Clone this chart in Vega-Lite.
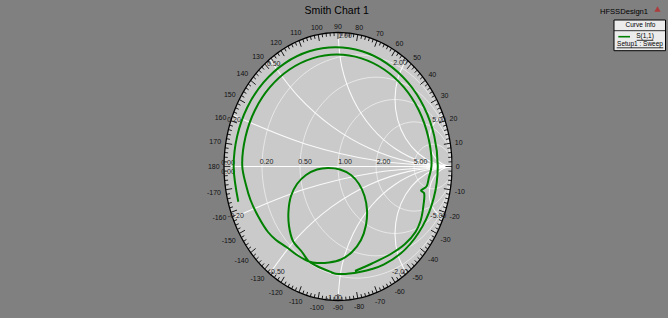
{
"$schema":"https://vega.github.io/schema/vega-lite/v6.json",
"width":668,"height":318,
"autosize":{"type":"fit","contains":"padding"},
"padding":0,
"background":"#808080",
"config":{"view":{"stroke":null},"text":{"font":"Liberation Sans"}},
"datasets":{
"ring":[
{"a":0,"u":1,"v":0,"m":1},{"a":2,"u":0.9994,"v":0.0349,"m":0},{"a":4,"u":0.9976,"v":0.0698,"m":0},{"a":6,"u":0.9945,"v":0.1045,"m":0},{"a":8,"u":0.9903,"v":0.1392,"m":0},
{"a":10,"u":0.9848,"v":0.1736,"m":1},{"a":12,"u":0.9781,"v":0.2079,"m":0},{"a":14,"u":0.9703,"v":0.2419,"m":0},{"a":16,"u":0.9613,"v":0.2756,"m":0},{"a":18,"u":0.9511,"v":0.309,"m":0},
{"a":20,"u":0.9397,"v":0.342,"m":1},{"a":22,"u":0.9272,"v":0.3746,"m":0},{"a":24,"u":0.9135,"v":0.4067,"m":0},{"a":26,"u":0.8988,"v":0.4384,"m":0},{"a":28,"u":0.8829,"v":0.4695,"m":0},
{"a":30,"u":0.866,"v":0.5,"m":1},{"a":32,"u":0.848,"v":0.5299,"m":0},{"a":34,"u":0.829,"v":0.5592,"m":0},{"a":36,"u":0.809,"v":0.5878,"m":0},{"a":38,"u":0.788,"v":0.6157,"m":0},
{"a":40,"u":0.766,"v":0.6428,"m":1},{"a":42,"u":0.7431,"v":0.6691,"m":0},{"a":44,"u":0.7193,"v":0.6947,"m":0},{"a":46,"u":0.6947,"v":0.7193,"m":0},{"a":48,"u":0.6691,"v":0.7431,"m":0},
{"a":50,"u":0.6428,"v":0.766,"m":1},{"a":52,"u":0.6157,"v":0.788,"m":0},{"a":54,"u":0.5878,"v":0.809,"m":0},{"a":56,"u":0.5592,"v":0.829,"m":0},{"a":58,"u":0.5299,"v":0.848,"m":0},
{"a":60,"u":0.5,"v":0.866,"m":1},{"a":62,"u":0.4695,"v":0.8829,"m":0},{"a":64,"u":0.4384,"v":0.8988,"m":0},{"a":66,"u":0.4067,"v":0.9135,"m":0},{"a":68,"u":0.3746,"v":0.9272,"m":0},
{"a":70,"u":0.342,"v":0.9397,"m":1},{"a":72,"u":0.309,"v":0.9511,"m":0},{"a":74,"u":0.2756,"v":0.9613,"m":0},{"a":76,"u":0.2419,"v":0.9703,"m":0},{"a":78,"u":0.2079,"v":0.9781,"m":0},
{"a":80,"u":0.1736,"v":0.9848,"m":1},{"a":82,"u":0.1392,"v":0.9903,"m":0},{"a":84,"u":0.1045,"v":0.9945,"m":0},{"a":86,"u":0.0698,"v":0.9976,"m":0},{"a":88,"u":0.0349,"v":0.9994,"m":0},
{"a":90,"u":0,"v":1,"m":1},{"a":92,"u":-0.0349,"v":0.9994,"m":0},{"a":94,"u":-0.0698,"v":0.9976,"m":0},{"a":96,"u":-0.1045,"v":0.9945,"m":0},{"a":98,"u":-0.1392,"v":0.9903,"m":0},
{"a":100,"u":-0.1736,"v":0.9848,"m":1},{"a":102,"u":-0.2079,"v":0.9781,"m":0},{"a":104,"u":-0.2419,"v":0.9703,"m":0},{"a":106,"u":-0.2756,"v":0.9613,"m":0},{"a":108,"u":-0.309,"v":0.9511,"m":0},
{"a":110,"u":-0.342,"v":0.9397,"m":1},{"a":112,"u":-0.3746,"v":0.9272,"m":0},{"a":114,"u":-0.4067,"v":0.9135,"m":0},{"a":116,"u":-0.4384,"v":0.8988,"m":0},{"a":118,"u":-0.4695,"v":0.8829,"m":0},
{"a":120,"u":-0.5,"v":0.866,"m":1},{"a":122,"u":-0.5299,"v":0.848,"m":0},{"a":124,"u":-0.5592,"v":0.829,"m":0},{"a":126,"u":-0.5878,"v":0.809,"m":0},{"a":128,"u":-0.6157,"v":0.788,"m":0},
{"a":130,"u":-0.6428,"v":0.766,"m":1},{"a":132,"u":-0.6691,"v":0.7431,"m":0},{"a":134,"u":-0.6947,"v":0.7193,"m":0},{"a":136,"u":-0.7193,"v":0.6947,"m":0},{"a":138,"u":-0.7431,"v":0.6691,"m":0},
{"a":140,"u":-0.766,"v":0.6428,"m":1},{"a":142,"u":-0.788,"v":0.6157,"m":0},{"a":144,"u":-0.809,"v":0.5878,"m":0},{"a":146,"u":-0.829,"v":0.5592,"m":0},{"a":148,"u":-0.848,"v":0.5299,"m":0},
{"a":150,"u":-0.866,"v":0.5,"m":1},{"a":152,"u":-0.8829,"v":0.4695,"m":0},{"a":154,"u":-0.8988,"v":0.4384,"m":0},{"a":156,"u":-0.9135,"v":0.4067,"m":0},{"a":158,"u":-0.9272,"v":0.3746,"m":0},
{"a":160,"u":-0.9397,"v":0.342,"m":1},{"a":162,"u":-0.9511,"v":0.309,"m":0},{"a":164,"u":-0.9613,"v":0.2756,"m":0},{"a":166,"u":-0.9703,"v":0.2419,"m":0},{"a":168,"u":-0.9781,"v":0.2079,"m":0},
{"a":170,"u":-0.9848,"v":0.1736,"m":1},{"a":172,"u":-0.9903,"v":0.1392,"m":0},{"a":174,"u":-0.9945,"v":0.1045,"m":0},{"a":176,"u":-0.9976,"v":0.0698,"m":0},{"a":178,"u":-0.9994,"v":0.0349,"m":0},
{"a":180,"u":-1,"v":0,"m":1},{"a":182,"u":-0.9994,"v":-0.0349,"m":0},{"a":184,"u":-0.9976,"v":-0.0698,"m":0},{"a":186,"u":-0.9945,"v":-0.1045,"m":0},{"a":188,"u":-0.9903,"v":-0.1392,"m":0},
{"a":190,"u":-0.9848,"v":-0.1736,"m":1},{"a":192,"u":-0.9781,"v":-0.2079,"m":0},{"a":194,"u":-0.9703,"v":-0.2419,"m":0},{"a":196,"u":-0.9613,"v":-0.2756,"m":0},{"a":198,"u":-0.9511,"v":-0.309,"m":0},
{"a":200,"u":-0.9397,"v":-0.342,"m":1},{"a":202,"u":-0.9272,"v":-0.3746,"m":0},{"a":204,"u":-0.9135,"v":-0.4067,"m":0},{"a":206,"u":-0.8988,"v":-0.4384,"m":0},{"a":208,"u":-0.8829,"v":-0.4695,"m":0},
{"a":210,"u":-0.866,"v":-0.5,"m":1},{"a":212,"u":-0.848,"v":-0.5299,"m":0},{"a":214,"u":-0.829,"v":-0.5592,"m":0},{"a":216,"u":-0.809,"v":-0.5878,"m":0},{"a":218,"u":-0.788,"v":-0.6157,"m":0},
{"a":220,"u":-0.766,"v":-0.6428,"m":1},{"a":222,"u":-0.7431,"v":-0.6691,"m":0},{"a":224,"u":-0.7193,"v":-0.6947,"m":0},{"a":226,"u":-0.6947,"v":-0.7193,"m":0},{"a":228,"u":-0.6691,"v":-0.7431,"m":0},
{"a":230,"u":-0.6428,"v":-0.766,"m":1},{"a":232,"u":-0.6157,"v":-0.788,"m":0},{"a":234,"u":-0.5878,"v":-0.809,"m":0},{"a":236,"u":-0.5592,"v":-0.829,"m":0},{"a":238,"u":-0.5299,"v":-0.848,"m":0},
{"a":240,"u":-0.5,"v":-0.866,"m":1},{"a":242,"u":-0.4695,"v":-0.8829,"m":0},{"a":244,"u":-0.4384,"v":-0.8988,"m":0},{"a":246,"u":-0.4067,"v":-0.9135,"m":0},{"a":248,"u":-0.3746,"v":-0.9272,"m":0},
{"a":250,"u":-0.342,"v":-0.9397,"m":1},{"a":252,"u":-0.309,"v":-0.9511,"m":0},{"a":254,"u":-0.2756,"v":-0.9613,"m":0},{"a":256,"u":-0.2419,"v":-0.9703,"m":0},{"a":258,"u":-0.2079,"v":-0.9781,"m":0},
{"a":260,"u":-0.1736,"v":-0.9848,"m":1},{"a":262,"u":-0.1392,"v":-0.9903,"m":0},{"a":264,"u":-0.1045,"v":-0.9945,"m":0},{"a":266,"u":-0.0698,"v":-0.9976,"m":0},{"a":268,"u":-0.0349,"v":-0.9994,"m":0},
{"a":270,"u":0,"v":-1,"m":1},{"a":272,"u":0.0349,"v":-0.9994,"m":0},{"a":274,"u":0.0698,"v":-0.9976,"m":0},{"a":276,"u":0.1045,"v":-0.9945,"m":0},{"a":278,"u":0.1392,"v":-0.9903,"m":0},
{"a":280,"u":0.1736,"v":-0.9848,"m":1},{"a":282,"u":0.2079,"v":-0.9781,"m":0},{"a":284,"u":0.2419,"v":-0.9703,"m":0},{"a":286,"u":0.2756,"v":-0.9613,"m":0},{"a":288,"u":0.309,"v":-0.9511,"m":0},
{"a":290,"u":0.342,"v":-0.9397,"m":1},{"a":292,"u":0.3746,"v":-0.9272,"m":0},{"a":294,"u":0.4067,"v":-0.9135,"m":0},{"a":296,"u":0.4384,"v":-0.8988,"m":0},{"a":298,"u":0.4695,"v":-0.8829,"m":0},
{"a":300,"u":0.5,"v":-0.866,"m":1},{"a":302,"u":0.5299,"v":-0.848,"m":0},{"a":304,"u":0.5592,"v":-0.829,"m":0},{"a":306,"u":0.5878,"v":-0.809,"m":0},{"a":308,"u":0.6157,"v":-0.788,"m":0},
{"a":310,"u":0.6428,"v":-0.766,"m":1},{"a":312,"u":0.6691,"v":-0.7431,"m":0},{"a":314,"u":0.6947,"v":-0.7193,"m":0},{"a":316,"u":0.7193,"v":-0.6947,"m":0},{"a":318,"u":0.7431,"v":-0.6691,"m":0},
{"a":320,"u":0.766,"v":-0.6428,"m":1},{"a":322,"u":0.788,"v":-0.6157,"m":0},{"a":324,"u":0.809,"v":-0.5878,"m":0},{"a":326,"u":0.829,"v":-0.5592,"m":0},{"a":328,"u":0.848,"v":-0.5299,"m":0},
{"a":330,"u":0.866,"v":-0.5,"m":1},{"a":332,"u":0.8829,"v":-0.4695,"m":0},{"a":334,"u":0.8988,"v":-0.4384,"m":0},{"a":336,"u":0.9135,"v":-0.4067,"m":0},{"a":338,"u":0.9272,"v":-0.3746,"m":0},
{"a":340,"u":0.9397,"v":-0.342,"m":1},{"a":342,"u":0.9511,"v":-0.309,"m":0},{"a":344,"u":0.9613,"v":-0.2756,"m":0},{"a":346,"u":0.9703,"v":-0.2419,"m":0},{"a":348,"u":0.9781,"v":-0.2079,"m":0},
{"a":350,"u":0.9848,"v":-0.1736,"m":1},{"a":352,"u":0.9903,"v":-0.1392,"m":0},{"a":354,"u":0.9945,"v":-0.1045,"m":0},{"a":356,"u":0.9976,"v":-0.0698,"m":0},{"a":358,"u":0.9994,"v":-0.0349,"m":0}
],
"rcircles":[
{"r":0.2,"i":0,"u":1,"v":0},{"r":0.2,"i":1,"u":0.88836,"v":0.41667},{"r":0.2,"i":2,"u":0.58333,"v":0.72169},{"r":0.2,"i":3,"u":0.16667,"v":0.83333},{"r":0.2,"i":4,"u":-0.25,"v":0.72169},{"r":0.2,"i":5,"u":-0.55502,"v":0.41667},{"r":0.2,"i":6,"u":-0.66667,"v":0},{"r":0.2,"i":7,"u":-0.55502,"v":-0.41667},{"r":0.2,"i":8,"u":-0.25,"v":-0.72169},{"r":0.2,"i":9,"u":0.16667,"v":-0.83333},{"r":0.2,"i":10,"u":0.58333,"v":-0.72169},{"r":0.2,"i":11,"u":0.88836,"v":-0.41667},
{"r":0.5,"i":0,"u":1,"v":0},{"r":0.5,"i":1,"u":0.91068,"v":0.33333},{"r":0.5,"i":2,"u":0.66667,"v":0.57735},{"r":0.5,"i":3,"u":0.33333,"v":0.66667},{"r":0.5,"i":4,"u":0,"v":0.57735},{"r":0.5,"i":5,"u":-0.24402,"v":0.33333},{"r":0.5,"i":6,"u":-0.33333,"v":0},{"r":0.5,"i":7,"u":-0.24402,"v":-0.33333},{"r":0.5,"i":8,"u":0,"v":-0.57735},{"r":0.5,"i":9,"u":0.33333,"v":-0.66667},{"r":0.5,"i":10,"u":0.66667,"v":-0.57735},{"r":0.5,"i":11,"u":0.91068,"v":-0.33333},
{"r":1,"i":0,"u":1,"v":0},{"r":1,"i":1,"u":0.93301,"v":0.25},{"r":1,"i":2,"u":0.75,"v":0.43301},{"r":1,"i":3,"u":0.5,"v":0.5},{"r":1,"i":4,"u":0.25,"v":0.43301},{"r":1,"i":5,"u":0.06699,"v":0.25},{"r":1,"i":6,"u":0,"v":0},{"r":1,"i":7,"u":0.06699,"v":-0.25},{"r":1,"i":8,"u":0.25,"v":-0.43301},{"r":1,"i":9,"u":0.5,"v":-0.5},{"r":1,"i":10,"u":0.75,"v":-0.43301},{"r":1,"i":11,"u":0.93301,"v":-0.25},
{"r":2,"i":0,"u":1,"v":0},{"r":2,"i":1,"u":0.95535,"v":0.16667},{"r":2,"i":2,"u":0.83333,"v":0.28868},{"r":2,"i":3,"u":0.66667,"v":0.33333},{"r":2,"i":4,"u":0.5,"v":0.28868},{"r":2,"i":5,"u":0.37799,"v":0.16667},{"r":2,"i":6,"u":0.33333,"v":0},{"r":2,"i":7,"u":0.37799,"v":-0.16667},{"r":2,"i":8,"u":0.5,"v":-0.28868},{"r":2,"i":9,"u":0.66667,"v":-0.33333},{"r":2,"i":10,"u":0.83333,"v":-0.28868},{"r":2,"i":11,"u":0.95535,"v":-0.16667},
{"r":5,"i":0,"u":1,"v":0},{"r":5,"i":1,"u":0.97767,"v":0.08333},{"r":5,"i":2,"u":0.91667,"v":0.14434},{"r":5,"i":3,"u":0.83333,"v":0.16667},{"r":5,"i":4,"u":0.75,"v":0.14434},{"r":5,"i":5,"u":0.68899,"v":0.08333},{"r":5,"i":6,"u":0.66667,"v":0},{"r":5,"i":7,"u":0.68899,"v":-0.08333},{"r":5,"i":8,"u":0.75,"v":-0.14434},{"r":5,"i":9,"u":0.83333,"v":-0.16667},{"r":5,"i":10,"u":0.91667,"v":-0.14434},{"r":5,"i":11,"u":0.97767,"v":-0.08333}
],
"xarcs":[
{"g":"0.2","i":0,"u":1,"v":0},{"g":"0.2","i":1,"u":0.34737,"v":0.04278},{"g":"0.2","i":2,"u":-0.2941,"v":0.17037},{"g":"0.2","i":3,"u":-0.92308,"v":0.38462},
{"g":"-0.2","i":0,"u":1,"v":0},{"g":"-0.2","i":1,"u":0.34737,"v":-0.04278},{"g":"-0.2","i":2,"u":-0.2941,"v":-0.17037},{"g":"-0.2","i":3,"u":-0.92308,"v":-0.38462},
{"g":"0.5","i":0,"u":1,"v":0},{"g":"0.5","i":1,"u":0.63108,"v":0.03432},{"g":"0.5","i":2,"u":0.27512,"v":0.13598},{"g":"0.5","i":3,"u":-0.05628,"v":0.3017},{"g":"0.5","i":4,"u":-0.35118,"v":0.52544},{"g":"0.5","i":5,"u":-0.6,"v":0.8},
{"g":"-0.5","i":0,"u":1,"v":0},{"g":"-0.5","i":1,"u":0.63108,"v":-0.03432},{"g":"-0.5","i":2,"u":0.27512,"v":-0.13598},{"g":"-0.5","i":3,"u":-0.05628,"v":-0.3017},{"g":"-0.5","i":4,"u":-0.35118,"v":-0.52544},{"g":"-0.5","i":5,"u":-0.6,"v":-0.8},
{"g":"1","i":0,"u":1,"v":0},{"g":"1","i":1,"u":0.74118,"v":0.03407},{"g":"1","i":2,"u":0.5,"v":0.13397},{"g":"1","i":3,"u":0.29289,"v":0.29289},{"g":"1","i":4,"u":0.13397,"v":0.5},{"g":"1","i":5,"u":0.03407,"v":0.74118},{"g":"1","i":6,"u":0,"v":1},
{"g":"-1","i":0,"u":1,"v":0},{"g":"-1","i":1,"u":0.74118,"v":-0.03407},{"g":"-1","i":2,"u":0.5,"v":-0.13397},{"g":"-1","i":3,"u":0.29289,"v":-0.29289},{"g":"-1","i":4,"u":0.13397,"v":-0.5},{"g":"-1","i":5,"u":0.03407,"v":-0.74118},{"g":"-1","i":6,"u":0,"v":-1},
{"g":"2","i":0,"u":1,"v":0},{"g":"2","i":1,"u":0.84446,"v":0.02481},{"g":"2","i":2,"u":0.70435,"v":0.09677},{"g":"2","i":3,"u":0.59359,"v":0.20874},{"g":"2","i":4,"u":0.52314,"v":0.34963},{"g":"2","i":5,"u":0.50003,"v":0.50543},{"g":"2","i":6,"u":0.52653,"v":0.66071},{"g":"2","i":7,"u":0.6,"v":0.8},
{"g":"-2","i":0,"u":1,"v":0},{"g":"-2","i":1,"u":0.84446,"v":-0.02481},{"g":"-2","i":2,"u":0.70435,"v":-0.09677},{"g":"-2","i":3,"u":0.59359,"v":-0.20874},{"g":"-2","i":4,"u":0.52314,"v":-0.34963},{"g":"-2","i":5,"u":0.50003,"v":-0.50543},{"g":"-2","i":6,"u":0.52653,"v":-0.66071},{"g":"-2","i":7,"u":0.6,"v":-0.8},
{"g":"5","i":0,"u":1,"v":0},{"g":"5","i":1,"u":0.9116,"v":0.02059},{"g":"5","i":2,"u":0.84141,"v":0.07814},{"g":"5","i":3,"u":0.80388,"v":0.16078},{"g":"5","i":4,"u":0.80674,"v":0.25149},{"g":"5","i":5,"u":0.8494,"v":0.33161},{"g":"5","i":6,"u":0.92308,"v":0.38462},
{"g":"-5","i":0,"u":1,"v":0},{"g":"-5","i":1,"u":0.9116,"v":-0.02059},{"g":"-5","i":2,"u":0.84141,"v":-0.07814},{"g":"-5","i":3,"u":0.80388,"v":-0.16078},{"g":"-5","i":4,"u":0.80674,"v":-0.25149},{"g":"-5","i":5,"u":0.8494,"v":-0.33161},{"g":"-5","i":6,"u":0.92308,"v":-0.38462}
],
"realaxis":[{"u":-1,"v":0},{"u":1,"v":0}],
"gridlabels":[
{"t":"0.20","u":-0.6272,"v":0.0336},{"t":"0.50","u":-0.2895,"v":0.0336},{"t":"1.00","u":0.0614,"v":0.0336},{"t":"2.00","u":0.3991,"v":0.0336},{"t":"5.00","u":0.7237,"v":0.0336},
{"t":"1.00","u":0.0614,"v":0.9739},{"t":"0.50","u":-0.564,"v":0.7634},{"t":"0.20","u":-0.9123,"v":0.347},{"t":"2.00","u":0.5439,"v":0.7687},{"t":"5.00","u":0.886,"v":0.347},
{"t":"0.00","u":-0.9649,"v":0.0239},{"t":"0.00","u":-0.9649,"v":-0.0388},
{"t":"-0.20","u":-0.8965,"v":-0.3679},{"t":"-0.50","u":-0.5377,"v":-0.7873},{"t":"-1.00","u":-0.0351,"v":-0.9836},{"t":"-2.00","u":0.5439,"v":-0.7851},{"t":"-5.00","u":0.8798,"v":-0.3716}
],
"anglelabels":[
{"t":"0","u":1.0502,"v":0},{"t":"10","u":1.0581,"v":0.1846},{"t":"20","u":1.0129,"v":0.3647},{"t":"30","u":0.9352,"v":0.534},{"t":"40","u":0.8275,"v":0.6867},{"t":"50","u":0.6938,"v":0.8177},{"t":"60","u":0.5384,"v":0.9226},{"t":"70","u":0.3669,"v":0.998},{"t":"80","u":0.1854,"v":1.0415},{"t":"90","u":0,"v":1.0522},
{"t":"100","u":-0.1859,"v":1.0444},{"t":"110","u":-0.3692,"v":1.0033},{"t":"120","u":-0.5433,"v":0.9298},{"t":"130","u":-0.7018,"v":0.8259},{"t":"140","u":-0.839,"v":0.6949},{"t":"150","u":-0.9498,"v":0.5412},{"t":"160","u":-1.0301,"v":0.37},{"t":"170","u":-1.0771,"v":0.1874},{"t":"180","u":-1.0893,"v":0},
{"t":"-170","u":-1.0884,"v":-0.1891},{"t":"-160","u":-1.0404,"v":-0.3732},{"t":"-150","u":-0.9585,"v":-0.5454},{"t":"-140","u":-0.8458,"v":-0.6998},{"t":"-130","u":-0.7066,"v":-0.8307},{"t":"-120","u":-0.5462,"v":-0.9341},{"t":"-110","u":-0.3706,"v":-1.0065},{"t":"-100","u":-0.1863,"v":-1.0461},
{"t":"-90","u":0,"v":-1.0522},{"t":"-80","u":0.1857,"v":-1.0432},{"t":"-70","u":0.3683,"v":-1.0012},{"t":"-60","u":0.5413,"v":-0.9269},{"t":"-50","u":0.6986,"v":-0.8226},{"t":"-40","u":0.8344,"v":-0.6916},{"t":"-30","u":0.9439,"v":-0.5383},{"t":"-20","u":1.0232,"v":-0.3679},{"t":"-10","u":1.0695,"v":-0.1863}
],
"s11":[
{"i":1,"u":-0.8746,"v":-0.2627},{"i":2,"u":-0.915,"v":-0.005},{"i":3,"u":-0.8845,"v":0.2266},{"i":4,"u":-0.7951,"v":0.4425},{"i":5,"u":-0.6529,"v":0.6279},{"i":6,"u":-0.4675,"v":0.7701},{"i":7,"u":-0.2516,"v":0.8595},{"i":8,"u":-0.02,"v":0.89},{"i":9,"u":0.2116,"v":0.8595},{"i":10,"u":0.4275,"v":0.7701},
{"i":11,"u":0.6129,"v":0.6279},{"i":12,"u":0.7551,"v":0.4425},{"i":13,"u":0.8445,"v":0.2266},{"i":14,"u":0.875,"v":-0.005},{"i":15,"u":0.8397,"v":-0.2353},{"i":16,"u":0.7421,"v":-0.445},{"i":17,"u":0.5916,"v":-0.6166},{"i":18,"u":0.4,"v":-0.7325},{"i":19,"u":0.1896,"v":-0.7874},{"i":20,"u":-0.02,"v":-0.8},
{"i":21,"u":-0.0702,"v":-0.785},{"i":22,"u":-0.1868,"v":-0.7425},{"i":23,"u":-0.2544,"v":-0.709},{"i":24,"u":-0.3158,"v":-0.638},{"i":25,"u":-0.3947,"v":-0.556},{"i":26,"u":-0.4298,"v":-0.444},{"i":27,"u":-0.4342,"v":-0.3321},{"i":28,"u":-0.4123,"v":-0.2201},{"i":29,"u":-0.3596,"v":-0.1306},{"i":30,"u":-0.2807,"v":-0.0634},
{"i":31,"u":-0.1842,"v":-0.0224},{"i":32,"u":-0.0877,"v":-0.0112},{"i":33,"u":0.0175,"v":-0.0224},{"i":34,"u":0.114,"v":-0.0634},{"i":35,"u":0.1842,"v":-0.1306},{"i":36,"u":0.2325,"v":-0.2201},{"i":37,"u":0.2544,"v":-0.3246},{"i":38,"u":0.2456,"v":-0.4366},{"i":39,"u":0.2018,"v":-0.5485},{"i":40,"u":0.1228,"v":-0.638},
{"i":41,"u":0.0263,"v":-0.694},{"i":42,"u":-0.0789,"v":-0.7164},{"i":43,"u":-0.1842,"v":-0.7201},{"i":44,"u":-0.2544,"v":-0.709},{"i":45,"u":-0.3596,"v":-0.6604},{"i":46,"u":-0.45,"v":-0.603},{"i":47,"u":-0.5439,"v":-0.5485},{"i":48,"u":-0.614,"v":-0.4888},{"i":49,"u":-0.7018,"v":-0.3694},{"i":50,"u":-0.7675,"v":-0.25},
{"i":51,"u":-0.807,"v":-0.1381},{"i":52,"u":-0.84,"v":0.005},{"i":53,"u":-0.8117,"v":0.2198},{"i":54,"u":-0.7288,"v":0.42},{"i":55,"u":-0.5969,"v":0.5919},{"i":56,"u":-0.425,"v":0.7238},{"i":57,"u":-0.2248,"v":0.8067},{"i":58,"u":-0.01,"v":0.835},{"i":59,"u":0.2048,"v":0.8067},{"i":60,"u":0.405,"v":0.7238},
{"i":61,"u":0.5769,"v":0.5919},{"i":62,"u":0.7088,"v":0.42},{"i":63,"u":0.7917,"v":0.2198},{"i":64,"u":0.82,"v":0.005},{"i":65,"u":0.7965,"v":-0.0858},{"i":66,"u":0.7763,"v":-0.1493},{"i":67,"u":0.7281,"v":-0.1791},{"i":68,"u":0.7544,"v":-0.1978},{"i":69,"u":0.75,"v":-0.2873},{"i":70,"u":0.7237,"v":-0.4067},
{"i":71,"u":0.6798,"v":-0.4888},{"i":72,"u":0.5877,"v":-0.5784},{"i":73,"u":0.4561,"v":-0.6567},{"i":74,"u":0.2982,"v":-0.7239},{"i":75,"u":0.1491,"v":-0.7799}
]
},
"encoding":{
"x":{"field":"u","type":"quantitative","scale":{"domain":[-2.964912,2.894737],"nice":false,"zero":false},"axis":null},
"y":{"field":"v","type":"quantitative","scale":{"domain":[-1.130597,1.242537],"nice":false,"zero":false},"axis":null}
},
"layer":[
{"data":{"name":"ring"},"mark":{"type":"line","interpolate":"linear-closed","fill":"#cacaca","strokeOpacity":0},"encoding":{"order":{"field":"a","type":"quantitative"}}},
{"data":{"name":"rcircles"},"mark":{"type":"line","interpolate":"cardinal-closed","color":"#ffffff","strokeWidth":1,"opacity":0.55},"encoding":{"detail":{"field":"r","type":"nominal"},"order":{"field":"i","type":"quantitative"}}},
{"data":{"name":"xarcs"},"mark":{"type":"line","interpolate":"cardinal","color":"#ffffff","strokeWidth":1.1,"opacity":0.9},"encoding":{"detail":{"field":"g","type":"nominal"},"order":{"field":"i","type":"quantitative"}}},
{"data":{"name":"realaxis"},"mark":{"type":"line","color":"#ffffff","strokeWidth":1.2},"encoding":{}},
{"data":{"name":"ring"},"mark":{"type":"point","shape":"M 0 0 L -1 0","filled":false,"color":"#000000","strokeWidth":0.8,"opacity":1},"encoding":{"angle":{"field":"a","type":"quantitative","scale":{"domain":[0,360],"range":[360,0]},"legend":null},"size":{"field":"m","type":"ordinal","scale":{"domain":[0,1],"range":[49,169]},"legend":null}}},
{"data":{"name":"ring"},"mark":{"type":"line","interpolate":"linear-closed","color":"#000000","strokeWidth":1.3},"encoding":{"order":{"field":"a","type":"quantitative"}}},
{"data":{"name":"gridlabels"},"mark":{"type":"text","fontSize":7,"color":"#1e1e1e"},"encoding":{"text":{"field":"t","type":"nominal"}}},
{"data":{"name":"anglelabels"},"mark":{"type":"text","fontSize":7,"color":"#111111","dy":1},"encoding":{"text":{"field":"t","type":"nominal"}}},
{"data":{"name":"s11"},"mark":{"type":"line","interpolate":"catmull-rom","color":"#008000","strokeWidth":2},"encoding":{"order":{"field":"i","type":"quantitative"}}},
{"data":{"values":[{"t":"Smith Chart 1","u":-0.0114,"v":1.1582}]},"mark":{"type":"text","fontSize":10.5,"color":"#000000"},"encoding":{"text":{"field":"t","type":"nominal"}}},
{"data":{"values":[{"t":"HFSSDesign1","u":2.50877,"v":1.15522}]},"mark":{"type":"text","fontSize":7.6,"color":"#000000"},"encoding":{"text":{"field":"t","type":"nominal"}}},
{"data":{"values":[{"u":2.80263,"v":1.17537}]},"mark":{"type":"point","shape":"triangle-up","filled":true,"color":"#c02020","size":40},"encoding":{}},
{"data":{"values":[{"u":2.42105,"u2":2.87281,"v":1.09328,"v2":0.86418}]},"mark":{"type":"rect","fill":"#ececec","stroke":"#000000","strokeWidth":1},"encoding":{"x2":{"field":"u2"},"y2":{"field":"v2"}}},
{"data":{"values":[{"u":2.42105,"u2":2.87281,"v":1.01343},{"u":2.62018,"u2":2.76579,"v":0.94179},{"u":2.44474,"u2":2.85351,"v":0.88582}]},"mark":{"type":"rule","color":"#000000","strokeWidth":0.8},"encoding":{"x2":{"field":"u2"}}},
{"data":{"values":[{"u":2.45877,"u2":2.5614,"v":0.96866}]},"mark":{"type":"rule","color":"#008000","strokeWidth":1.6},"encoding":{"x2":{"field":"u2"}}},
{"data":{"values":[{"t":"Curve Info","u":2.65351,"v":1.05597},{"t":"S(1,1)","u":2.69298,"v":0.97015},{"t":"Setup1 : Sweep","u":2.64912,"v":0.91418}]},"mark":{"type":"text","fontSize":6.5,"color":"#000000"},"encoding":{"text":{"field":"t","type":"nominal"}}}
]
}
